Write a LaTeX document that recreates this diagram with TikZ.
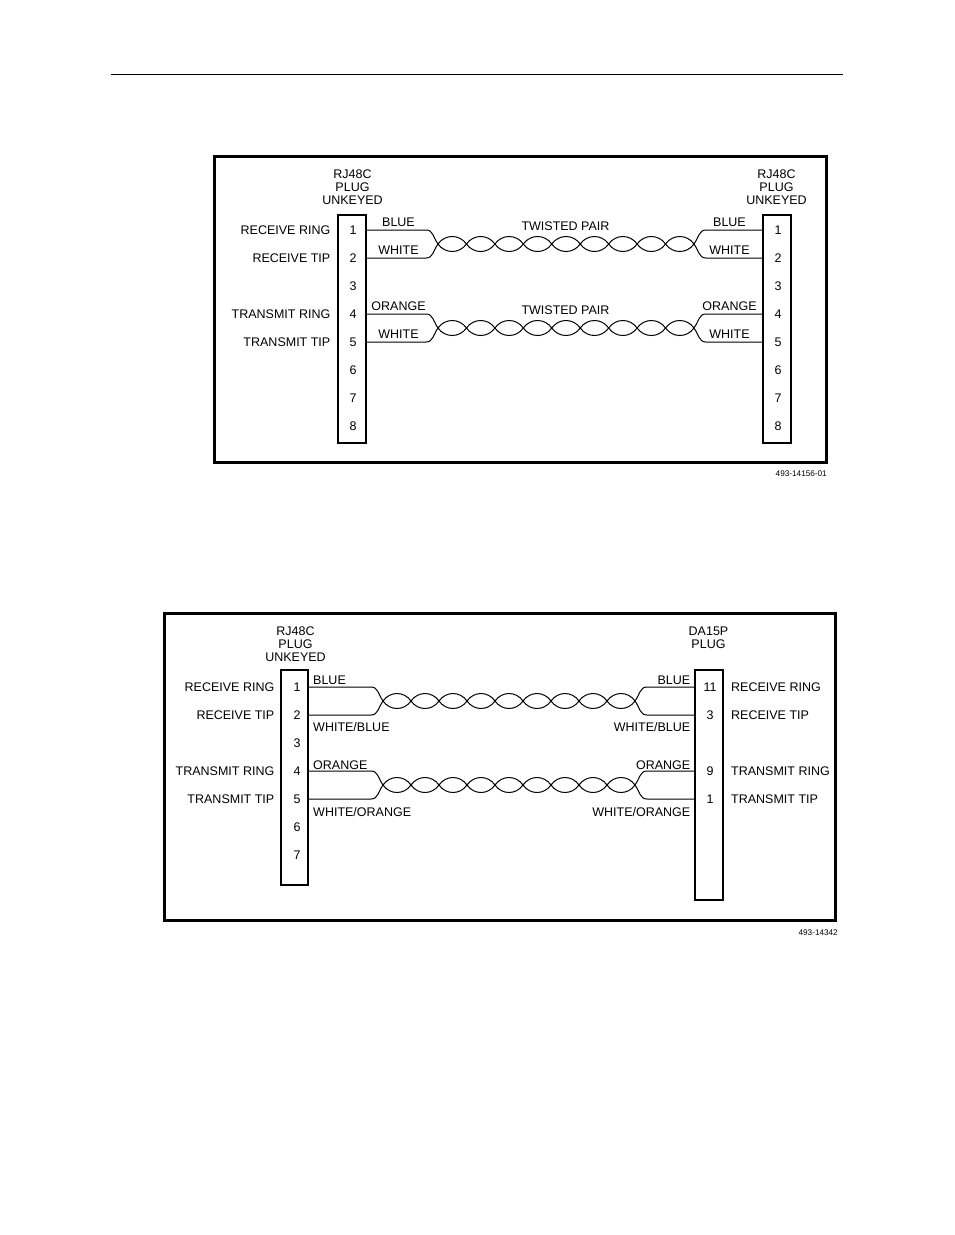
\documentclass[tikz,border=0pt]{standalone}
\usepackage{fontspec}
\setmainfont{Liberation Sans}
\def\twistrun#1#2#3#4{
  \coordinate (#1-w) at (#2,#4);
  \coordinate (#1-e) at (#3,#4);
  \foreach \i in {0,...,8}
  \draw[wire] ({#2+(#3-#2)*\i/9},#4) .. controls +(7,-10) and +(-7,-10) .. ({#2+(#3-#2)*(\i+1)/9},#4)
              ({#2+(#3-#2)*\i/9},#4) .. controls +(7,10) and +(-7,10) .. ({#2+(#3-#2)*(\i+1)/9},#4);
}
\tikzset{
	frame/.style={draw,line width=2.8pt},
	plug/.style={draw,line width=2pt,inner sep=0pt,fill=white},
	wire/.style={line width=1pt},
	lbl/.style={inner sep=0pt,text height=9pt,text depth=0pt,font=\fontsize{12.5}{13}\selectfont},
	pin/.style={lbl},
	title/.style={lbl,align=center,text height=,text depth=},
	partno/.style={inner sep=0pt,font=\fontsize{8.2}{9}\selectfont},
	}

\begin{document}
\begin{tikzpicture}[x=1pt,y=-1pt]
 \useasboundingbox (0,0) rectangle (954,1235);
 \coordinate (rl) at (111,74);
 \coordinate (rr) at (843,74);
 \draw[line width=1pt] (rl) -- (rr);

 % upper cable
 \node[frame,minimum width=612,minimum height=306,inner sep=0pt] (box1) at (520.5,309.5) {};
 \node[plug,minimum width=28,minimum height=228] (aplug) at (352,329) {};
 \node[plug,minimum width=28,minimum height=228] (bplug) at (777,329) {};
 \foreach \n/\y in {1/230,2/258,3/286,4/314,5/342,6/370,7/398,8/426}{
  \node[pin] (a\n) at (353,\y) {\n};
  \node[pin] (b\n) at (778,\y) {\n};
 }
 \node[title] (ta) at (352.5,187) {RJ48C\\PLUG\\UNKEYED};
 \node[title] (tb) at (776.5,187) {RJ48C\\PLUG\\UNKEYED};
 \node[lbl,anchor=east] (a1l) at (330.5,230) {RECEIVE RING};
 \node[lbl,anchor=east] (a2l) at (330.5,258) {RECEIVE TIP};
 \node[lbl,anchor=east] (a4l) at (330.5,314) {TRANSMIT RING};
 \node[lbl,anchor=east] (a5l) at (330.5,342) {TRANSMIT TIP};
 \node[lbl] (a1c) at (398.5,222) {BLUE};
 \node[lbl] (a2c) at (398.5,250) {WHITE};
 \node[lbl] (a4c) at (398.5,306) {ORANGE};
 \node[lbl] (a5c) at (398.5,334) {WHITE};
 \node[lbl] (b1c) at (729.5,222) {BLUE};
 \node[lbl] (b2c) at (729.5,250) {WHITE};
 \node[lbl] (b4c) at (729.5,306) {ORANGE};
 \node[lbl] (b5c) at (729.5,334) {WHITE};
 \node[lbl] (tp1) at (565.5,226) {TWISTED PAIR};
 \node[lbl] (tp2) at (565.5,310) {TWISTED PAIR};
 \node[partno,anchor=east] (no1) at (827,474) {493-14156-01};
 \twistrun{ua}{438}{694}{244}
 \twistrun{ub}{438}{694}{328}
 \foreach \p/\tw/\d in {1/ua/-7,2/ua/7,4/ub/-7,5/ub/7}{
  \draw[wire] (a\p -| aplug.east) -- ++(59,0) .. controls +(7,0) and +(-5,\d) .. (\tw-w);
  \draw[wire] (b\p -| bplug.west) -- ++(-56,0) .. controls +(-7,0) and +(5,\d) .. (\tw-e);
 }

 % lower cable
 \node[frame,minimum width=671,minimum height=307,inner sep=0pt] (box2) at (500,767) {};
 \node[plug,minimum width=27,minimum height=215] (cplug) at (294.5,777.5) {};
 \node[plug,minimum width=28,minimum height=230] (dplug) at (709,785) {};
 \foreach \n/\y in {1/687,2/715,3/743,4/771,5/799,6/827,7/855}
  \node[pin] (c\n) at (297,\y) {\n};
 \foreach \n/\y in {11/687,3/715,9/771,1/799}
  \node[pin] (d\n) at (710,\y) {\n};
 \node[title] (tc) at (295.5,644.5) {RJ48C\\PLUG\\UNKEYED};
 \node[title] (td) at (708.5,638) {DA15P\\PLUG};
 \node[lbl,anchor=east] (c1l) at (274.5,687) {RECEIVE RING};
 \node[lbl,anchor=east] (c2l) at (274.5,715) {RECEIVE TIP};
 \node[lbl,anchor=east] (c4l) at (274.5,771) {TRANSMIT RING};
 \node[lbl,anchor=east] (c5l) at (274.5,799) {TRANSMIT TIP};
 \node[lbl,anchor=west] (c1c) at (313,680) {BLUE};
 \node[lbl,anchor=west] (c2c) at (313,727) {WHITE/BLUE};
 \node[lbl,anchor=west] (c4c) at (313,765) {ORANGE};
 \node[lbl,anchor=west] (c5c) at (313,812) {WHITE/ORANGE};
 \node[lbl,anchor=east] (d1c) at (690.5,680) {BLUE};
 \node[lbl,anchor=east] (d2c) at (690.5,727) {WHITE/BLUE};
 \node[lbl,anchor=east] (d4c) at (690.5,765) {ORANGE};
 \node[lbl,anchor=east] (d5c) at (690.5,812) {WHITE/ORANGE};
 \node[lbl,anchor=west] (d1l) at (731,687) {RECEIVE RING};
 \node[lbl,anchor=west] (d2l) at (731,715) {RECEIVE TIP};
 \node[lbl,anchor=west] (d4l) at (731,771) {TRANSMIT RING};
 \node[lbl,anchor=west] (d5l) at (731,799) {TRANSMIT TIP};
 \node[partno,anchor=east] (no2) at (838,933) {493-14342};
 \twistrun{la}{383}{635}{701}
 \twistrun{lb}{383}{635}{785}
 \foreach \p/\q/\tw/\d in {1/11/la/-7,2/3/la/7,4/9/lb/-7,5/1/lb/7}{
  \draw[wire] (c\p -| cplug.east) -- ++(62,0) .. controls +(7,0) and +(-5,\d) .. (\tw-w);
  \draw[wire] (d\q -| dplug.west) -- ++(-47,0) .. controls +(-7,0) and +(5,\d) .. (\tw-e);
 }
\end{tikzpicture}
\end{document}
